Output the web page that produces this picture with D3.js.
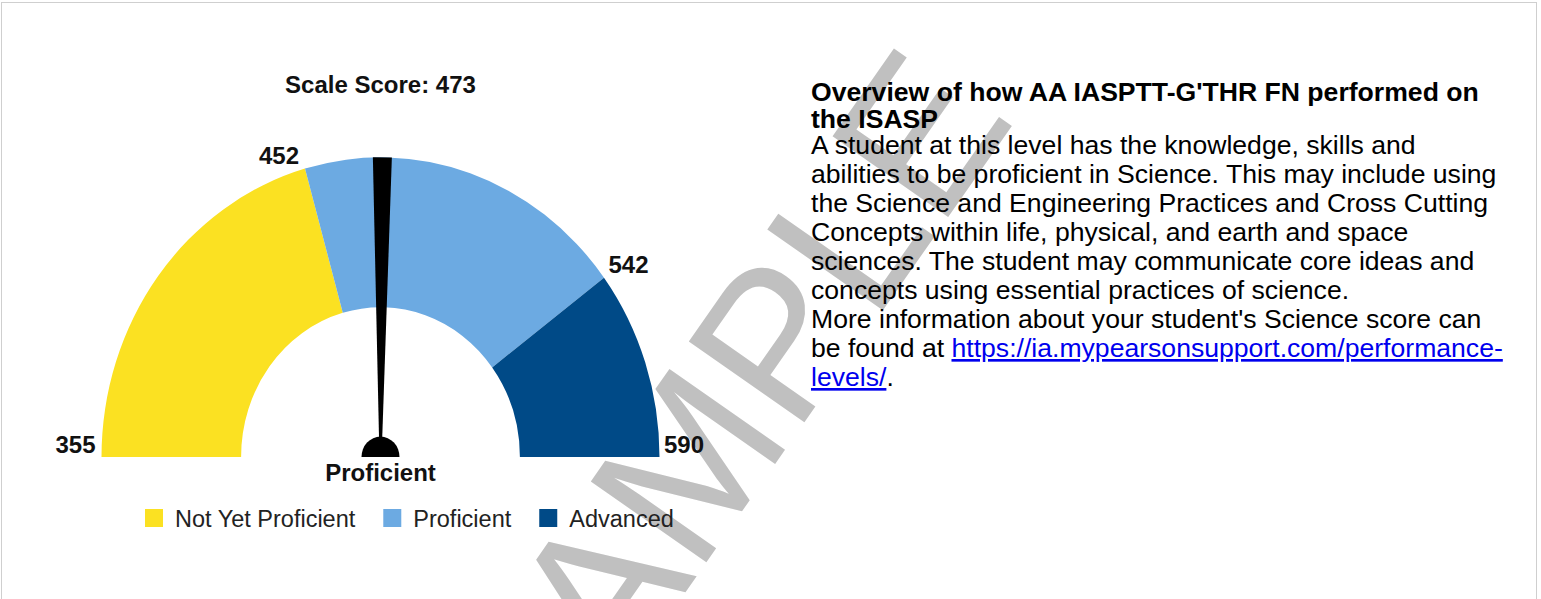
<!DOCTYPE html>
<html>
<head>
<meta charset="utf-8">
<script src="https://cdn.jsdelivr.net/npm/d3@7"></script>
<style>
  body { margin: 0; background: #fff; }
  svg { display: block; font-family: "Liberation Sans", Arial, sans-serif; }
</style>
</head>
<body>
<div id="main"></div>
<script>
// score range and cut points of the performance levels
var scoreMin = 355, scoreMax = 590;
var score = 473;
var levelNames = ["Not Yet Proficient", "Proficient", "Advanced"];
var levelCuts = [355, 452, 542, 590];
var levelColors = ["#fbe122", "#6caae2", "#004a87"];
var currentLevel = "Proficient";

var headingLines = ["Overview of how AA IASPTT-G'THR FN performed on", "the ISASP"];
var bodyLines = [
  "A student at this level has the knowledge, skills and",
  "abilities to be proficient in Science. This may include using",
  "the Science and Engineering Practices and Cross Cutting",
  "Concepts within life, physical, and earth and space",
  "sciences. The student may communicate core ideas and",
  "concepts using essential practices of science.",
  "More information about your student's Science score can"
];
var linkLead = "be found at ";
var linkParts = ["https://ia.mypearsonsupport.com/performance-", "levels/"];
var linkTail = ".";

var width = 1541, height = 599;

var svg = d3.select("#main").append("svg")
    .attr("width", width)
    .attr("height", height);

// faint watermark behind everything
svg.append("text")
    .attr("transform", "translate(540,800) rotate(-55)")
    .attr("font-size", 205)
    .attr("fill", "#c0c0c0")
    .text("SAMPLE");

// page frame
svg.append("rect")
    .attr("x", 1.5).attr("y", 2.5)
    .attr("width", 1535).attr("height", 700)
    .attr("fill", "none")
    .attr("stroke", "#cfcfcf");

// ---- gauge ----
var cx = 380.5, cy = 457, rOuter = 279, rInner = 139.4, yStretch = 1.074, hubR = 19;

var angle = d3.scaleLinear()
    .domain([scoreMin, scoreMax])
    .range([-Math.PI / 2, Math.PI / 2]);

var arc = d3.arc().innerRadius(rInner).outerRadius(rOuter);

var gauge = svg.append("g")
    .attr("transform", "translate(" + cx + "," + cy + ") scale(1," + yStretch + ")");

gauge.selectAll("path.band")
  .data(levelNames)
  .enter().append("path")
    .attr("class", "band")
    .attr("d", function(d, i) {
      return arc({ startAngle: angle(levelCuts[i]), endAngle: angle(levelCuts[i + 1]) });
    })
    .attr("fill", function(d, i) { return levelColors[i]; });

// needle
var needle = gauge.append("g")
    .attr("transform", "rotate(" + (angle(score) * 180 / Math.PI) + ")");
needle.append("polygon")
    .attr("points", [[-9.5, -rOuter], [9.5, -rOuter], [1.6, -hubR + 1], [-1.6, -hubR + 1]].join(" "))
    .attr("fill", "#000");

gauge.append("path")
    .attr("d", d3.arc()({ innerRadius: 0, outerRadius: hubR, startAngle: -Math.PI / 2, endAngle: Math.PI / 2 }))
    .attr("fill", "#000");

// cut labels
svg.selectAll("text.cut")
  .data(levelCuts)
  .enter().append("text")
    .attr("class", "cut")
    .attr("x", function(d) {
      var a = angle(d), x = cx + rOuter * Math.sin(a);
      return Math.sin(a) < 0 ? x - 6 : x + 4.5;
    })
    .attr("y", function(d) {
      return cy - rOuter * Math.cos(angle(d)) * yStretch - 4.5;
    })
    .attr("text-anchor", function(d) { return Math.sin(angle(d)) < 0 ? "end" : "start"; })
    .attr("font-size", 24)
    .attr("font-weight", "bold")
    .attr("fill", "#111")
    .text(function(d) { return d; });

svg.append("text")
    .attr("x", cx).attr("y", 93)
    .attr("text-anchor", "middle")
    .attr("font-size", 24)
    .attr("font-weight", "bold")
    .attr("fill", "#111")
    .text("Scale Score: " + score);

svg.append("text")
    .attr("x", cx).attr("y", 481)
    .attr("text-anchor", "middle")
    .attr("font-size", 24)
    .attr("font-weight", "bold")
    .attr("fill", "#111")
    .text(currentLevel);

// legend, laid out left to right from the text widths
var legX = 145;
levelNames.forEach(function(name, i) {
  svg.append("rect")
      .attr("x", legX).attr("y", 509)
      .attr("width", 18).attr("height", 18)
      .attr("fill", levelColors[i]);
  var t = svg.append("text")
      .attr("x", legX + 30).attr("y", 527)
      .attr("font-size", 23.5)
      .attr("fill", "#222")
      .text(name);
  legX = legX + 30 + t.node().getComputedTextLength() + 28;
});

// ---- right hand description ----
var textX = 811, fs = 26.6;

svg.selectAll("text.head")
  .data(headingLines)
  .enter().append("text")
    .attr("class", "head")
    .attr("x", textX)
    .attr("y", function(d, i) { return 101 + i * 27; })
    .attr("font-size", fs)
    .attr("font-weight", "bold")
    .attr("fill", "#000")
    .text(function(d) { return d; });

var lineY = function(i) { return 154 + i * 29; };

svg.selectAll("text.body")
  .data(bodyLines)
  .enter().append("text")
    .attr("class", "body")
    .attr("x", textX)
    .attr("y", function(d, i) { return lineY(i); })
    .attr("font-size", fs)
    .attr("fill", "#000")
    .text(function(d) { return d; });

var l8 = svg.append("text")
    .attr("x", textX).attr("y", lineY(bodyLines.length))
    .attr("font-size", fs).attr("fill", "#000");
l8.append("tspan").text(linkLead);
l8.append("tspan").attr("fill", "#0000ee").attr("text-decoration", "underline").text(linkParts[0]);

var l9 = svg.append("text")
    .attr("x", textX).attr("y", lineY(bodyLines.length + 1))
    .attr("font-size", fs).attr("fill", "#000");
l9.append("tspan").attr("fill", "#0000ee").attr("text-decoration", "underline").text(linkParts[1]);
l9.append("tspan").text(linkTail);
</script>
</body>
</html>
